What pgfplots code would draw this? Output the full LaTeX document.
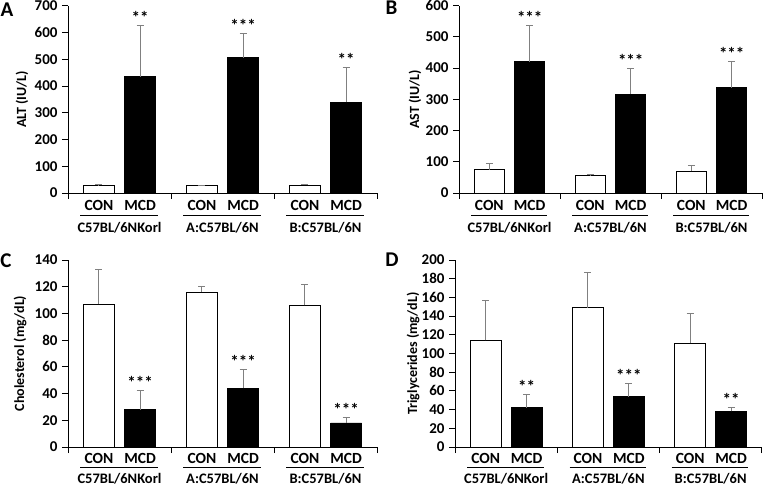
\documentclass[border=0pt]{standalone}
\usepackage{fontspec}
\setmainfont{Carlito}
\usepackage{pgfplots}
\pgfplotsset{compat=1.18}
\definecolor{errgray}{HTML}{808080}
\pgfplotsset{
  panel/.style={
    scale only axis,
    axis lines*=left,
    axis line style={-, line width=0.9pt},
    xmin=0, xmax=3, ymin=0,
    xtick={0,1,2,3}, xticklabels={},
    tick align=outside,
    major tick length=6pt,
    tick style={line width=0.9pt, black},
    ticklabel style={font=\fontsize{15}{15}\selectfont\bfseries},
    /pgf/number format/assume math mode=true,
    yticklabel style={xshift=-1pt},
    clip=false,
    every axis y label/.style={at={(axis description cs:0,0.5)}, anchor=center, rotate=90, font=\fontsize{14}{14}\selectfont\bfseries},
  },
  conbar/.style={ybar, bar width=0.3, bar shift=0pt, fill=white, draw=black, line width=0.8pt,
    error bars/.cd, y dir=plus, y explicit,
    error bar style={errgray, line width=0.9pt},
    error mark options={rotate=90, mark size=3.5pt, errgray, line width=0.9pt}},
  mcdbar/.style={ybar, bar width=0.3, bar shift=0pt, fill=black, draw=black, line width=0.8pt,
    error bars/.cd, y dir=plus, y explicit,
    error bar style={errgray, line width=0.9pt},
    error mark options={rotate=90, mark size=3.5pt, errgray, line width=0.9pt}},
}
\tikzset{
  lab/.style={font=\fontsize{15.5}{15.5}\selectfont\bfseries, anchor=center},
  glab/.style={font=\fontsize{14.5}{14.5}\selectfont\bfseries, anchor=center},
  star/.style={font=\fontsize{17}{17}\selectfont\bfseries, anchor=south, inner sep=0pt, yshift=2pt},
}
\newcommand{\grouplabels}[3]{%
  \node[lab] at ([yshift=-#1]axis cs:0.3,0) {CON};
  \node[lab] at ([yshift=-#1]axis cs:0.7,0) {MCD};
  \node[lab] at ([yshift=-#1]axis cs:1.3,0) {CON};
  \node[lab] at ([yshift=-#1]axis cs:1.7,0) {MCD};
  \node[lab] at ([yshift=-#1]axis cs:2.3,0) {CON};
  \node[lab] at ([yshift=-#1]axis cs:2.7,0) {MCD};
  \draw[line width=1.2pt] ([yshift=-#2]axis cs:0.12,0) -- ([yshift=-#2]axis cs:0.87,0);
  \draw[line width=1.2pt] ([yshift=-#2]axis cs:1.12,0) -- ([yshift=-#2]axis cs:1.87,0);
  \draw[line width=1.2pt] ([yshift=-#2]axis cs:2.12,0) -- ([yshift=-#2]axis cs:2.87,0);
  \node[glab] at ([yshift=-#3]axis cs:0.5,0) {C57BL/6NKorl};
  \node[glab] at ([yshift=-#3]axis cs:1.5,0) {A:C57BL/6N};
  \node[glab] at ([yshift=-#3]axis cs:2.5,0) {B:C57BL/6N};
}
\begin{document}
\begin{tikzpicture}[x=1pt,y=1pt]
\path[use as bounding box] (0,0) rectangle (765,490);
\node[font=\fontsize{21}{21}\selectfont\bfseries] at (7,480) {A};
\node[font=\fontsize{21}{21}\selectfont\bfseries] at (391.5,482) {B};
\node[font=\fontsize{21}{21}\selectfont\bfseries] at (6,229) {C};
\node[font=\fontsize{21}{21}\selectfont\bfseries] at (392,230) {D};

% Panel A
\begin{axis}[panel, at={(68pt,297pt)}, anchor=south west, width=309pt, height=187.3pt,
  ymax=700, ytick distance=100, ylabel={ALT (IU/L)}, ylabel style={yshift=46pt}]
\addplot[conbar] coordinates {(0.3,27) +- (0,4) (1.3,28) +- (0,2) (2.3,29) +- (0,4)};
\addplot[mcdbar] coordinates {(0.7,435) +- (0,190) (1.7,505) +- (0,92) (2.7,340) +- (0,130)};
\node[star] at (axis cs:0.7,625) {**};
\node[star] at (axis cs:1.7,597) {***};
\node[star] at (axis cs:2.7,470) {**};
\grouplabels{12.5pt}{22.5pt}{34.5pt}
\end{axis}

% Panel B
\begin{axis}[panel, at={(459pt,297pt)}, anchor=south west, width=303pt, height=187.3pt,
  ymax=600, ytick distance=100, ylabel={AST (IU/L)}, ylabel style={yshift=44pt}]
\addplot[conbar] coordinates {(0.3,75) +- (0,19) (1.3,55) +- (0,4) (2.3,70) +- (0,17)};
\addplot[mcdbar] coordinates {(0.7,420) +- (0,117) (1.7,317) +- (0,81) (2.7,337) +- (0,84)};
\node[star] at (axis cs:0.7,537) {***};
\node[star] at (axis cs:1.7,398) {***};
\node[star] at (axis cs:2.7,421) {***};
\grouplabels{12.5pt}{22.5pt}{34.5pt}
\end{axis}

% Panel C
\begin{axis}[panel, at={(68pt,43pt)}, anchor=south west, width=309pt, height=187pt,
  ymax=140, ytick distance=20, ylabel={Cholesterol (mg/dL)}, ylabel style={yshift=48pt}]
\addplot[conbar] coordinates {(0.3,107) +- (0,26) (1.3,116) +- (0,4) (2.3,106) +- (0,16)};
\addplot[mcdbar] coordinates {(0.7,28) +- (0,14) (1.7,44) +- (0,14) (2.7,18) +- (0,4)};
\node[star] at (axis cs:0.7,42) {***};
\node[star] at (axis cs:1.7,58) {***};
\node[star] at (axis cs:2.7,22) {***};
\grouplabels{11.5pt}{20.5pt}{31.5pt}
\end{axis}

% Panel D
\begin{axis}[panel, at={(455pt,43pt)}, anchor=south west, width=306.7pt, height=187pt,
  ymax=200, ytick distance=20, ylabel={Triglycerides (mg/dL)}, ylabel style={yshift=42pt}]
\addplot[conbar] coordinates {(0.3,114) +- (0,43) (1.3,149) +- (0,38) (2.3,111) +- (0,32)};
\addplot[mcdbar] coordinates {(0.7,42) +- (0,14) (1.7,54) +- (0,14) (2.7,38) +- (0,4)};
\node[star] at (axis cs:0.7,56) {**};
\node[star] at (axis cs:1.7,68) {***};
\node[star] at (axis cs:2.7,42) {**};
\grouplabels{11.5pt}{20.5pt}{31.5pt}
\end{axis}
\end{tikzpicture}
\end{document}
